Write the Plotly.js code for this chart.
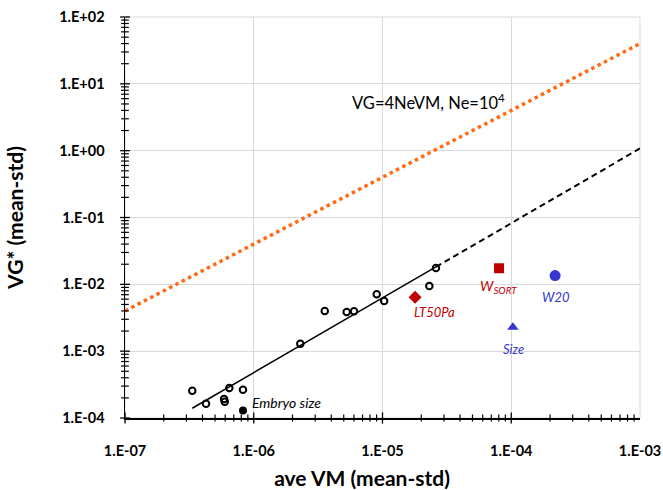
<!DOCTYPE html>
<html><head><meta charset="utf-8">
<script src="https://cdn.plot.ly/plotly-3.0.1.min.js"></script>
<style>html,body{margin:0;padding:0;background:#fff;}#chart{width:663px;height:490px;}</style>
</head><body><div id="chart"></div>
<script>
// ---- data ----
const vmOpen = [3.33e-7, 4.26e-7, 5.88e-7, 5.95e-7, 6.46e-7, 8.25e-7, 2.30e-6, 3.56e-6, 5.27e-6, 6.01e-6, 9.02e-6, 1.03e-5, 2.31e-5, 2.60e-5];
const vgOpen = [2.56e-4, 1.64e-4, 1.92e-4, 1.75e-4, 2.81e-4, 2.65e-4, 1.29e-3, 3.99e-3, 3.86e-3, 3.95e-3, 7.10e-3, 5.62e-3, 9.44e-3, 1.75e-2];
const embryoVM = [8.25e-7], embryoVG = [1.30e-4];
const lt50VM = [1.79e-5], lt50VG = [6.40e-3];
const wsortVM = [8.04e-5], wsortVG = [1.74e-2];
const sizeVM = [1.03e-4], sizeVG = [2.28e-3];
const w20VM = [2.19e-4], w20VG = [1.35e-2];
const fitVM = [3.33e-7, 2.6e-5], fitVG = [1.40e-4, 1.82e-2];
const extVM = [2.6e-5, 1e-3], extVG = [1.82e-2, 1.08];
const neutralVM = [1e-7, 1e-3], neutralVG = [4e-3, 40];
const xTickVals = [1e-7, 1e-6, 1e-5, 1e-4, 1e-3];
const xTickText = ['1.E-07', '1.E-06', '1.E-05', '1.E-04', '1.E-03'];
const yTickVals = [1e-4, 1e-3, 1e-2, 1e-1, 1, 10, 100];
const yTickText = ['1.E-04', '1.E-03', '1.E-02', '1.E-01', '1.E+00', '1.E+01', '1.E+02'];

function minors(vals) {
  const out = [];
  for (let i = 0; i < vals.length - 1; i++) for (let k = 2; k <= 9; k++) out.push(vals[i] * k);
  return out;
}
const xMinor = minors(xTickVals), yMinor = minors(yTickVals);
const xRange = [Math.log10(xTickVals[0]), Math.log10(xTickVals[xTickVals.length - 1])];
const yRange = [Math.log10(yTickVals[0]), Math.log10(yTickVals[yTickVals.length - 1])];
const xAxisPos = xTickVals[0], yAxisPos = yTickVals[0];

const FONT = 'Lato, "Open Sans", sans-serif';
const RED = '#C00000', BLUE = '#3535D2', ORANGE = '#FF6A13';

// tick marks crossing the axis lines, drawn as line markers sitting on the axes
function tickTrace(xs, ys, symbol, size, w) {
  return {x: xs, y: ys, mode: 'markers', cliponaxis: false, hoverinfo: 'skip',
          marker: {symbol: symbol, size: size, color: '#000', line: {width: w, color: '#000'}}};
}

const traces = [
  {x: neutralVM, y: neutralVG, mode: 'lines',
   line: {color: ORANGE, width: 3.5, dash: '3.5px,3.6px'}, hoverinfo: 'skip'},
  {x: fitVM, y: fitVG, mode: 'lines', line: {color: '#000', width: 1.5}},
  {x: extVM, y: extVG, mode: 'lines', line: {color: '#000', width: 2, dash: '6px,4px'}},
  {x: vmOpen, y: vgOpen, mode: 'markers',
   marker: {symbol: 'circle-open', size: 6.5, color: '#000', line: {width: 2, color: '#000'}}},
  {x: embryoVM, y: embryoVG, mode: 'markers', marker: {symbol: 'circle', size: 8, color: '#000'}},
  {x: lt50VM, y: lt50VG, mode: 'markers', marker: {symbol: 'diamond', size: 10, color: RED}},
  {x: wsortVM, y: wsortVG, mode: 'markers', marker: {symbol: 'square', size: 10, color: RED}},
  {x: sizeVM, y: sizeVG, mode: 'markers', marker: {symbol: 'triangle-up', size: 10, color: BLUE}},
  {x: w20VM, y: w20VG, mode: 'markers', marker: {symbol: 'circle', size: 11, color: BLUE}},
  tickTrace(xTickVals, xTickVals.map(() => yAxisPos), 'line-ns-open', 8, 1.3),
  tickTrace(xMinor, xMinor.map(() => yAxisPos), 'line-ns-open', 5, 1.2),
  tickTrace(yTickVals.map(() => xAxisPos), yTickVals, 'line-ew-open', 7, 1.3),
  tickTrace(yMinor.map(() => xAxisPos), yMinor, 'line-ew-open', 5.5, 1.2)
];

const tickFont = {family: FONT, size: 14.5, color: '#000', weight: 'bold'};
const layout = {
  width: 663, height: 490,
  margin: {l: 125, r: 23, t: 17, b: 72},
  paper_bgcolor: '#fff', plot_bgcolor: '#fff',
  showlegend: false,
  font: {family: FONT},
  xaxis: {
    type: 'log', range: xRange, tickmode: 'array', tickvals: xTickVals, ticktext: xTickText,
    ticks: '', showline: true, linecolor: '#000', linewidth: 1.5,
    showgrid: true, gridcolor: '#d9d9d9', gridwidth: 1,
    tickfont: tickFont, ticklabelstandoff: 19,
    zeroline: false, layer: 'below traces',
    title: {text: 'ave VM (mean-std)' + '\u00a0'.repeat(8) + '\u200b',
            font: {family: FONT, size: 21, color: '#000', weight: 'bold'}, standoff: 14}
  },
  yaxis: {
    type: 'log', range: yRange, tickmode: 'array', tickvals: yTickVals, ticktext: yTickText,
    ticks: '', showline: true, linecolor: '#000', linewidth: 1.5,
    showgrid: true, gridcolor: '#d9d9d9', gridwidth: 1,
    tickfont: tickFont, ticklabelstandoff: 16,
    zeroline: false, layer: 'below traces',
    title: {text: 'VG* (mean-std)', font: {family: FONT, size: 21, color: '#000', weight: 'bold'}, standoff: 30}
  },
  shapes: [
    {type: 'rect', xref: 'paper', yref: 'paper', x0: 0, x1: 1, y0: 0, y1: 1,
     line: {color: '#d9d9d9', width: 1}, layer: 'below'}
  ],
  annotations: [
    {x: -5.252, y: 0.728, xref: 'x', yref: 'y', xanchor: 'left', yanchor: 'middle', showarrow: false,
     text: 'VG=4NeVM, Ne=10<sup>4</sup>', font: {family: FONT, size: 16.5, color: '#000'}},
    {x: -6.029, y: -3.771, xref: 'x', yref: 'y', xanchor: 'left', yanchor: 'middle', showarrow: false,
     text: '<i>Embryo size</i>', font: {family: FONT, size: 14, color: '#000'}},
    {x: -4.771, y: -2.414, xref: 'x', yref: 'y', xanchor: 'left', yanchor: 'middle', showarrow: false,
     text: '<i>LT50Pa</i>', font: {family: FONT, size: 13, color: RED}},
    {x: -4.099, y: -2.03, xref: 'x', yref: 'y', xanchor: 'center', yanchor: 'middle', showarrow: false,
     text: '<i>W<sub>SORT</sub></i>', font: {family: FONT, size: 14, color: RED}},
    {x: -3.983, y: -2.968, xref: 'x', yref: 'y', xanchor: 'center', yanchor: 'middle', showarrow: false,
     text: '<i>Size</i>', font: {family: FONT, size: 13, color: BLUE}},
    {x: -3.652, y: -2.19, xref: 'x', yref: 'y', xanchor: 'center', yanchor: 'middle', showarrow: false,
     text: '<i>W20</i>', font: {family: FONT, size: 13, color: BLUE}}
  ]
};

Plotly.newPlot('chart', traces, layout, {displayModeBar: false, staticPlot: true});
</script>
</body></html>
